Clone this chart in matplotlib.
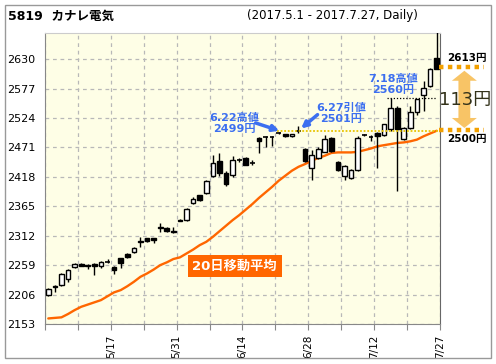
import matplotlib
matplotlib.use('Agg')
import matplotlib.pyplot as plt
from matplotlib.patches import Rectangle, Polygon

# ---- data ----
dates = ['5/1', '5/2', '5/8', '5/9', '5/10', '5/11', '5/12', '5/15', '5/16', '5/17',
         '5/18', '5/19', '5/22', '5/23', '5/24', '5/25', '5/26', '5/29', '5/30', '5/31',
         '6/1', '6/2', '6/5', '6/6', '6/7', '6/8', '6/9', '6/12', '6/13', '6/14',
         '6/15', '6/16', '6/19', '6/20', '6/21', '6/22', '6/23', '6/26', '6/27', '6/28',
         '6/29', '6/30', '7/3', '7/4', '7/5', '7/6', '7/7', '7/10', '7/11', '7/12',
         '7/13', '7/14', '7/18', '7/19', '7/20', '7/21', '7/24', '7/25', '7/26', '7/27']
opens = [2205, 2222, 2223, 2234, 2255, 2261, 2260, 2261, 2258, 2265,
         2256, 2271, 2279, 2282, 2301, 2307, 2307, 2326, 2325, 2321,
         2341, 2341, 2371, 2385, 2389, 2419, 2446, 2425, 2422, 2447,
         2452, 2444, 2488, 2489, 2491, 2497, 2495, 2491, 2500, 2469,
         2434, 2452, 2463, 2488, 2444, 2419, 2416, 2431, 2494, 2490,
         2497, 2494, 2504, 2542, 2486, 2506, 2534, 2565, 2582, 2632]
highs = [2218, 2224, 2244, 2252, 2262, 2262, 2261, 2262, 2267, 2270,
         2258, 2272, 2280, 2292, 2310, 2308, 2308, 2335, 2327, 2328,
         2342, 2362, 2381, 2386, 2412, 2458, 2461, 2428, 2455, 2452,
         2453, 2448, 2489, 2492, 2492, 2499, 2496, 2496, 2509, 2470,
         2467, 2471, 2493, 2489, 2446, 2440, 2433, 2492, 2496, 2494,
         2498, 2514, 2560, 2545, 2507, 2545, 2559, 2590, 2614, 2680]
lows = [2204, 2211, 2222, 2229, 2254, 2257, 2252, 2241, 2254, 2263,
        2243, 2254, 2272, 2280, 2292, 2300, 2299, 2319, 2319, 2317,
        2338, 2339, 2369, 2375, 2387, 2417, 2419, 2402, 2418, 2445,
        2439, 2440, 2461, 2472, 2473, 2495, 2490, 2490, 2497, 2445,
        2413, 2450, 2462, 2462, 2428, 2413, 2414, 2428, 2492, 2482,
        2434, 2492, 2500, 2392, 2484, 2504, 2530, 2536, 2580, 2612]
closes = [2216, 2219, 2243, 2250, 2261, 2258, 2257, 2258, 2264, 2266,
          2251, 2262, 2274, 2289, 2303, 2302, 2305, 2328, 2321, 2318,
          2339, 2360, 2378, 2377, 2410, 2443, 2425, 2405, 2449, 2448,
          2440, 2443, 2483, 2490, 2490, 2496, 2491, 2495, 2501, 2446,
          2458, 2469, 2487, 2464, 2431, 2437, 2431, 2488, 2494, 2490,
          2492, 2513, 2542, 2504, 2506, 2534, 2558, 2578, 2612, 2613]
ma20 = [2163, 2164, 2165, 2171, 2178, 2184, 2188, 2192, 2196, 2203,
        2210, 2214, 2221, 2229, 2238, 2244, 2251, 2259, 2264, 2270,
        2273, 2280, 2287, 2295, 2301, 2310, 2320, 2330, 2340, 2349,
        2359, 2369, 2380, 2390, 2400, 2411, 2420, 2429, 2436, 2441,
        2447, 2452, 2456, 2461, 2462, 2462, 2462, 2463, 2466, 2469,
        2473, 2475, 2477, 2479, 2480, 2482, 2485, 2491, 2496, 2501]
ytick_values = [2153, 2206, 2259, 2312, 2365, 2418, 2471, 2524, 2577, 2630]
xtick_labels = ['5/17', '5/31', '6/14', '6/28', '7/12', '7/27']
high_622 = 2499
close_627 = 2501
high_718 = 2560
level_low = 2500
level_high = 2613

plt.rcParams['font.family'] = ['DejaVu Sans', 'Noto Sans CJK JP']

fig = plt.figure(figsize=(4.96, 3.64), dpi=100)
fig.patch.set_facecolor('white')
ax = fig.add_axes([45 / 496, 1 - 324 / 364, 395 / 496, 291 / 364])
ax.set_facecolor('#fefee6')

n = len(dates)
xs = list(range(n))
ax.set_xlim(-0.5, n - 0.5)
ax.set_ylim(2153, 2677)

# grid / ticks
ax.set_yticks(ytick_values)
ax.set_yticklabels([str(v) for v in ytick_values], fontsize=8)
minor_x = [i - 0.5 for i in range(0, n + 1, 5)]
ax.set_xticks(minor_x)
lbl = []
for p in minor_x:
    idx = int(p + 0.5) - 1
    name = dates[idx] if 0 <= idx < n else ''
    lbl.append(name if name in xtick_labels else '')
ax.set_xticklabels(lbl, rotation=90, fontsize=7.5)
ax.grid(True, color='#b8b8b8', linestyle=(0, (3, 3)), linewidth=0.9)
ax.set_axisbelow(True)
ax.tick_params(axis='y', length=0, pad=7)
ax.tick_params(axis='x', length=4, color='#888888', pad=4)
for s in ['left', 'bottom']:
    ax.spines[s].set_color('#888888')
ax.spines['top'].set_color('#cccccc')
ax.spines['right'].set_color('#666666')

# moving average
ax.plot(xs, ma20, color='#ff6600', lw=1.7, zorder=2, solid_capstyle='round')

# candles
w = 0.72
for i in xs:
    o, h, l, c = opens[i], highs[i], lows[i], closes[i]
    ax.vlines(i, l, h, color='black', lw=1.0, zorder=3)
    bottom = min(o, c)
    height = abs(c - o)
    if height < 1.5:
        ax.hlines((o + c) / 2, i - w / 2, i + w / 2, color='black', lw=1.2, zorder=4)
    else:
        fc = 'white' if c > o else 'black'
        ax.add_patch(Rectangle((i - w / 2, bottom), w, height, facecolor=fc,
                               edgecolor='black', lw=1.0, zorder=4))

blue = '#3c6ff0'
# level lines
i622 = dates.index('6/22')
ax.hlines(level_low, i622 - 0.3, n - 0.5, color='#e8c400', lw=1.3,
          linestyles=(0, (1, 1)), zorder=5)
i718 = dates.index('7/18')
ax.hlines(high_718, i718 - 0.5, n - 1.1, color='black', lw=0.9,
          linestyles=(0, (1, 1.5)), zorder=5)

# annotations
ax.text(i622 - 6.7, 2514, '6.22高値\n%d円' % high_622, color=blue, fontsize=8,
        fontweight='bold', ha='center', va='center', linespacing=1.15, zorder=6)
ax.annotate('', xy=(i622 + 0.1, high_622 + 2), xytext=(i622 - 3.5, 2515),
            arrowprops=dict(arrowstyle='-|>', color=blue, lw=2.5, mutation_scale=9,
                            shrinkA=0, shrinkB=0), zorder=6)
i627 = dates.index('6/27')
ax.text(i627 + 6.5, 2532, '6.27引値\n%d円' % close_627, color=blue, fontsize=8,
        fontweight='bold', ha='center', va='center', linespacing=1.15, zorder=6)
ax.annotate('', xy=(i627 + 0.4, close_627 + 4), xytext=(i627 + 2.9, 2530),
            arrowprops=dict(arrowstyle='-|>', color=blue, lw=2.5, mutation_scale=9,
                            shrinkA=0, shrinkB=0), zorder=6)
ax.text(i718 + 0.4, 2584, '7.18高値\n%d円' % high_718, color=blue, fontsize=8,
        fontweight='bold', ha='center', va='center', linespacing=1.15, zorder=6)

ax.text(28.3, 2257, '20日移動平均', color='white', fontsize=9.5, fontweight='bold',
        ha='center', va='center', zorder=6,
        bbox=dict(boxstyle='square,pad=0.35', fc='#ff6600', ec='none'))

# right-side range markers
amber = '#f2a000'
for v in (level_high, level_low):
    ax.plot([59.3, 66.2], [v + 2, v + 2], color=amber, lw=3.2,
            linestyle=(0, (1, 1)), clip_on=False, zorder=7,
            dash_capstyle='butt')
ax.text(60.6, level_high + 19, '%d円' % level_high, fontsize=7.5, fontweight='bold',
        ha='left', va='center', clip_on=False)
ax.text(60.6, level_low - 14, '%d円' % level_low, fontsize=7.5, fontweight='bold',
        ha='left', va='center', clip_on=False)

xc = 63.2
top = level_high - 4
bot = level_low + 6
hw, sw, hh = 1.9, 0.9, 18
arrow_pts = [(xc, top), (xc + hw, top - hh), (xc + sw, top - hh), (xc + sw, bot + hh),
             (xc + hw, bot + hh), (xc, bot), (xc - hw, bot + hh), (xc - sw, bot + hh),
             (xc - sw, top - hh), (xc - hw, top - hh)]
ax.add_patch(Polygon(arrow_pts, closed=True, facecolor='#f8c466', edgecolor='none',
                     clip_on=False, zorder=7))
ax.text(63.3, 2557, '%d円' % (level_high - level_low), fontsize=13,
        color='#33321a', ha='center', va='center', clip_on=False, zorder=8)

# title
fig.text(8 / 496, 1 - 16 / 364, '5819  カナレ電気', fontsize=9, fontweight='bold',
         ha='left', va='center')
fig.text(247 / 496, 1 - 16 / 364, '(2017.5.1 - 2017.7.27, Daily)', fontsize=8.5,
         ha='left', va='center')

# outer frame
fig.patches.append(Rectangle((5 / 496, 1 - 358 / 364), 486 / 496, 353 / 364,
                             transform=fig.transFigure, fill=False,
                             edgecolor='#999999', lw=1.0))

fig.savefig('out.png', dpi=100)
